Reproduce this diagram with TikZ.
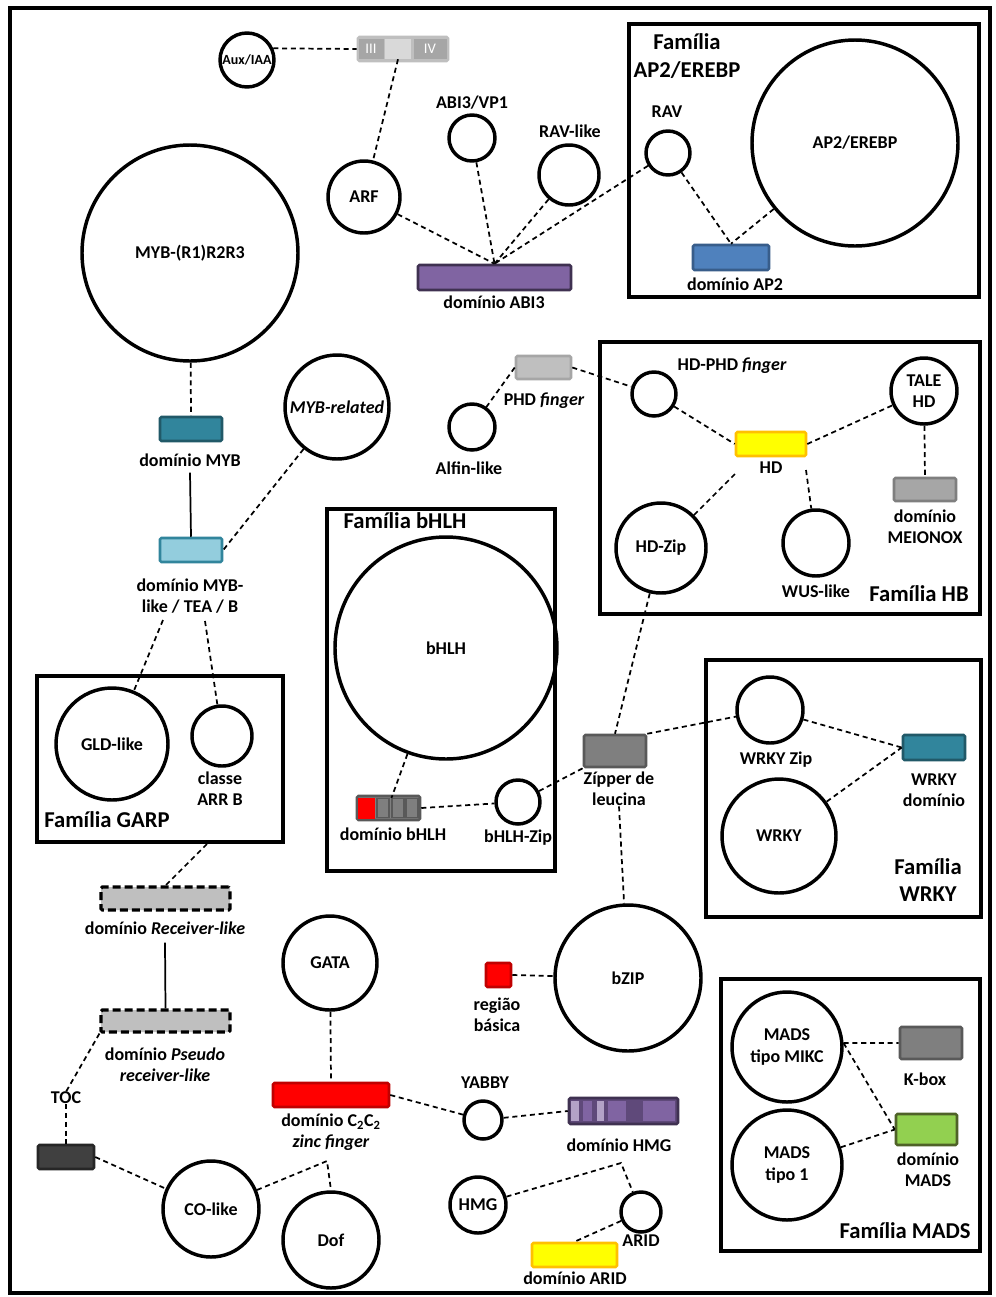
\documentclass[tikz,border=0pt]{standalone}
\usepackage{fontspec}
\setmainfont{Carlito}
\usetikzlibrary{calc}
\definecolor{purA}{HTML}{8064A2}
\definecolor{purD}{HTML}{3F3151}
\definecolor{purL}{HTML}{B3A2C7}
\definecolor{purM}{HTML}{5F497A}
\definecolor{bluA}{HTML}{4F81BD}
\definecolor{bluD}{HTML}{385D8A}
\definecolor{tealA}{HTML}{31859C}
\definecolor{tealD}{HTML}{215968}
\definecolor{tealL}{HTML}{93CDDD}
\definecolor{grL}{HTML}{BFBFBF}
\definecolor{grM}{HTML}{A6A6A6}
\definecolor{grD}{HTML}{7F7F7F}
\definecolor{grDD}{HTML}{595959}
\definecolor{grX}{HTML}{404040}
\definecolor{grXX}{HTML}{262626}
\definecolor{grLL}{HTML}{D9D9D9}
\definecolor{yelA}{HTML}{FFFF00}
\definecolor{gold}{HTML}{FFC000}
\definecolor{redA}{HTML}{FF0000}
\definecolor{redD}{HTML}{C00000}
\definecolor{grnA}{HTML}{92D050}
\definecolor{grnD}{HTML}{4F6228}
\begin{document}
\begin{tikzpicture}[x=0.75pt,y=-0.75pt,
  lbl/.style={font=\bfseries\fontsize{13.5}{16}\selectfont, align=center, inner sep=0},
  circ/.style={circle, draw=black, line width=2.6pt, minimum size=#1*1.5pt, inner sep=0, font=\bfseries\fontsize{13.5}{16}\selectfont, align=center},
  dom/.style 2 args={rectangle, rounded corners=1pt, line width=1.9pt, minimum width=#1*0.75pt, minimum height=#2*0.75pt, inner sep=0},
  seg/.style 2 args={rectangle, draw=none, minimum width=#1*0.75pt, minimum height=#2*0.75pt, inner sep=0},
  con/.style={dash pattern=on 3.8pt off 2.8pt, line width=1.3pt},
  solidcon/.style={line width=1.3pt},
  fam/.style={draw=black, line width=2.6pt},
  famtitle/.style={font=\bfseries\fontsize{17}{20.5}\selectfont, align=center, inner sep=0},
  dashbox/.style={draw=black, dash pattern=on 6pt off 3pt, line width=2.3pt, fill=grL},
  romtxt/.style={text=white, font=\fontsize{11}{13}\selectfont}
]
\useasboundingbox (0,0) rectangle (996,1297);
\fill[white] (0,0) rectangle (996,1297);
\draw[fam] (10,8) rectangle (990,1293);

% family frames
\draw[fam] (629,24) rectangle (979,297);
\draw[fam] (600,342) rectangle (980,614);
\draw[fam] (327,509) rectangle (555,871);
\draw[fam] (37,676) rectangle (283,842);
\draw[fam] (706,660) rectangle (981,917);
\draw[fam] (721,979) rectangle (980,1251);
\node[famtitle] (tAP2) at (687,56) {Família\\AP2/EREBP};
\node[famtitle] (tHB) at (919,594) {Família HB};
\node[famtitle] (tbHLH) at (405,521) {Família bHLH};
\node[famtitle] (tGARP) at (107,820) {Família GARP};
\node[famtitle] (tWRKY) at (928,880) {Família\\WRKY};
\node[famtitle] (tMADS) at (905,1231) {Família MADS};

% circles
\node[circ=27, font=\bfseries\fontsize{10.5}{12}\selectfont] (aux) at (247,60) {Aux/IAA};
\node[circ=36] (arf) at (364,197) {ARF};
\node[circ=23] (abi3vp1) at (472,138) {};
\node[circ=30] (ravlike) at (569,175) {};
\node[circ=22] (rav) at (668,153) {};
\node[circ=103] (ap2) at (855,143) {AP2/EREBP};
\node[circ=108] (myb) at (190,253) {MYB-(R1)R2R3};
\node[circ=52] (mybrel) at (337,407) {\itshape MYB-related};
\node[circ=23] (alfin) at (472,427) {};
\node[circ=22] (hdphd) at (654,394) {};
\node[circ=33] (tale) at (924,391) {TALE\\HD};
\node[circ=45] (hdzip) at (661,548) {HD-Zip};
\node[circ=33] (wus) at (816,543) {};
\node[circ=111] (bhlh) at (446,648) {bHLH};
\node[circ=22] (bhlhzip) at (518,802) {};
\node[circ=56] (gld) at (112,744) {GLD-like};
\node[circ=30] (arrb) at (222,736) {};
\node[circ=33] (wrkyzip) at (770,710) {};
\node[circ=57] (wrky) at (779,836) {WRKY};
\node[circ=73] (bzip) at (628,978) {bZIP};
\node[circ=47] (gata) at (330,963) {GATA};
\node[circ=19] (yabby) at (483,1120) {};
\node[circ=28] (hmg) at (478,1205) {HMG};
\node[circ=20] (arid) at (641,1212) {};
\node[circ=48] (colike) at (211,1209) {CO-like};
\node[circ=48] (dof) at (331,1240) {Dof};
\node[circ=55] (mikc) at (787,1047) {MADS\\tipo MIKC};
\node[circ=55] (mads1) at (787,1165) {MADS\\tipo 1};

% outside labels of circles
\node[lbl] (labi3vp1) at (472,103) {ABI3/VP1};
\node[lbl] (lravlike) at (570,131) {RAV-like};
\node[lbl] (lrav) at (667,112) {RAV};
\node[lbl] (lalfin) at (469,468) {Alfin-like};
\node[lbl] (lhdphd) at (732,366) {HD-PHD \itshape finger};
\node[lbl] (lwus) at (816,591) {WUS-like};
\node[lbl] (lbhlhzip) at (518,838) {bHLH-Zip};
\node[lbl] (larrb) at (220,789) {classe\\ARR B};
\node[lbl] (lwrkyzip) at (776,760) {WRKY Zip};
\node[lbl] (lyabby) at (485,1083) {YABBY};
\node[lbl] (larid) at (641,1241) {ARID};

% domain boxes
\node[dom={90}{24}, fill=grL, draw=grL] (auxbar) at (403,49) {};
\node[seg={25}{20}, fill=grM, romtxt] (aux3) at (371,49) {III};
\node[seg={26}{20}, fill=grLL] (auxmid) at (398,49) {};
\node[seg={33}{20}, fill=grM, romtxt] (aux4) at (430,49) {IV};

\node[dom={153}{25}, fill=purA, draw=purD] (abi3dom) at (494.5,277.5) {};
\node[lbl] (labi3dom) at (494,302) {domínio ABI3};
\node[dom={76}{25}, fill=bluA, draw=bluD] (ap2dom) at (731,257.5) {};
\node[lbl] (lap2dom) at (735,284) {domínio AP2};
\node[dom={62}{24}, fill=tealA, draw=tealD] (mybdom) at (191,429) {};
\node[lbl] (lmybdom) at (190,460) {domínio MYB};
\node[dom={62}{24}, fill=tealL, draw=tealA] (myblike) at (191,550) {};
\node[lbl] (lmyblike) at (190,596) {domínio MYB-\\like / TEA / B};
\node[dom={55}{23}, fill=grL, draw=grM] (phd) at (543.5,367.5) {};
\node[lbl] (lphd) at (544,401) {PHD \itshape finger};
\node[dom={70}{24}, fill=yelA, draw=gold] (hd) at (771,444) {};
\node[lbl] (lhd) at (771,468) {HD};
\node[dom={62}{23}, fill=grM, draw=grD] (meionox) at (925,489.5) {};
\node[lbl] (lmeionox) at (925,527) {domínio\\MEIONOX};

\node[dom={63}{24}, fill=grD, draw=grDD] (bhlhdom) at (388.5,808) {};
\node[seg={17}{21}, fill=redA] (bseg0) at (366,808) {};
\node[seg={12}{19}, fill=grD, draw=grDD, line width=0.8pt] (bseg1) at (383,808) {};
\node[seg={12}{19}, fill=grD, draw=grDD, line width=0.8pt] (bseg2) at (398,808) {};
\node[seg={12}{19}, fill=grD, draw=grDD, line width=0.8pt] (bseg3) at (412,808) {};
\node[lbl] (lbhlhdom) at (393,834) {domínio bHLH};

\node[dom={62}{32}, fill=grD, draw=grDD] (zip) at (615,751) {};
\node[lbl] (lzip) at (619,789) {Zípper de\\leucina};
\node[dom={62}{25}, fill=tealA, draw=tealD] (wrkydom) at (934,747.5) {};
\node[lbl] (lwrkydom) at (934,790) {WRKY\\domínio};

\node[dom={129}{23}, dashbox] (recv) at (165.5,898.5) {};
\node[lbl] (lrecv) at (165,928) {domínio \itshape Receiver-like};
\node[dom={129}{22}, dashbox] (pseudo) at (165.5,1021) {};
\node[lbl] (lpseudo) at (165,1065) {domínio \textit{Pseudo}\\\textit{receiver-like}};
\node[lbl] (ltoc) at (66,1098) {TOC};
\node[dom={56}{24}, fill=grX, draw=grXX] (toc) at (66,1157) {};

\node[dom={116}{24}, fill=redA, draw=redD] (c2c2) at (331,1095) {};
\node[lbl] (lc2c2) at (331,1132) {domínio C\textsubscript{2}C\textsubscript{2}\\\textit{zinc finger}};
\node[dom={109}{26}, fill=purM, draw=purD] (hmgdom) at (623.5,1111) {};
\node[seg={8}{20}, fill=purL] (hs1) at (575,1111) {};
\node[seg={9}{20}, fill=purA] (hs2) at (587,1111) {};
\node[seg={7}{20}, fill=purL] (hs3) at (600,1111) {};
\node[seg={18}{20}, fill=purA] (hs4) at (617,1111) {};
\node[seg={32}{20}, fill=purA] (hs5) at (659,1111) {};
\node[lbl] (lhmgdom) at (619,1145) {domínio HMG};
\node[dom={85}{24}, fill=yelA, draw=gold] (ariddom) at (574.5,1255) {};
\node[lbl] (lariddom) at (575,1278) {domínio ARID};
\node[dom={25}{24}, fill=redA, draw=redD] (basica) at (498.5,975) {};
\node[lbl] (lbasica) at (497,1015) {região\\básica};
\node[dom={62}{32}, fill=grD, draw=grDD] (kbox) at (931,1043) {};
\node[lbl] (lkbox) at (925,1079) {K-box};
\node[dom={61}{31}, fill=grnA, draw=grnD] (madsdom) at (926.5,1129.5) {};
\node[lbl] (lmadsdom) at (928,1170) {domínio\\MADS};

% free-end coordinates
\coordinate (mlA) at (163,620);
\coordinate (mlB) at (205,621);
\coordinate (garpB) at (207,844);
\coordinate (coCorner) at (327,1161);
\coordinate (hmgCorner) at (621,1163);
\coordinate (hdA) at (735,474);
\coordinate (hdB) at (806,470);

% connectors
\draw[con] (aux.24) -- (auxbar.west);
\draw[con] (auxmid.south) -- (arf);
\draw[con] (arf) -- (abi3dom.north);
\draw[con] (abi3vp1) -- (abi3dom.north);
\draw[con] (ravlike) -- (abi3dom.north);
\draw[con] (rav) -- (abi3dom.north);
\draw[con] (rav) -- (ap2dom.north);
\draw[con] (ap2) -- (ap2dom.north);
\draw[con] (myb) -- (mybdom.north);
\draw[solidcon] ($(lmybdom.south)+(0,6)$) -- (myblike.north);
\draw[con] (mybrel) -- (myblike.east);
\draw[con] (mlA) -- (gld);
\draw[con] (mlB) -- (arrb);
\draw[con] (garpB) -- (recv.north);
\draw[solidcon] ($(lrecv.south)+(0,8)$) -- (pseudo.north);
\draw[con] (pseudo.south west) -- (ltoc.north);
\draw[con] (ltoc.south) -- (toc.north);
\draw[con] (toc.east) -- (colike);
\draw[con] (colike) -- (coCorner) -- (dof.north);
\draw[con] (gata) -- (c2c2.north);
\draw[con] (c2c2.east) -- (yabby);
\draw[con] (yabby) -- (hmgdom.west);
\draw[con] (hmg) -- (hmgCorner) -- (arid);
\draw[con] (arid) -- (ariddom.north);
\draw[con] (bhlh) -- (bseg2.north west);
\draw[con] (bhlhdom.east) -- (bhlhzip);
\draw[con] (bhlhzip) -- (zip.south west);
\draw[con] (hdzip) -- (zip.north);
\draw[con] (zip.north east) -- (wrkyzip);
\draw[con] (lzip.south) -- (bzip);
\draw[con] (basica.east) -- (bzip);
\draw[con] (wrkyzip) -- (wrkydom.west);
\draw[con] (wrky) -- (wrkydom.west);
\draw[con] (phd.west) -- (alfin);
\draw[con] (phd.east) -- (hdphd);
\draw[con] (hdphd) -- (hd.west);
\draw[con] (hd.east) -- (tale);
\draw[con] (tale) -- (meionox.north);
\draw[con] (hdA) -- (hdzip);
\draw[con] (hdB) -- (wus);
\draw[con] (mikc.4) -- (kbox.west);
\draw[con] (mikc.4) -- (madsdom.west);
\draw[con] (mads1) -- (madsdom.west);
\end{tikzpicture}
\end{document}
